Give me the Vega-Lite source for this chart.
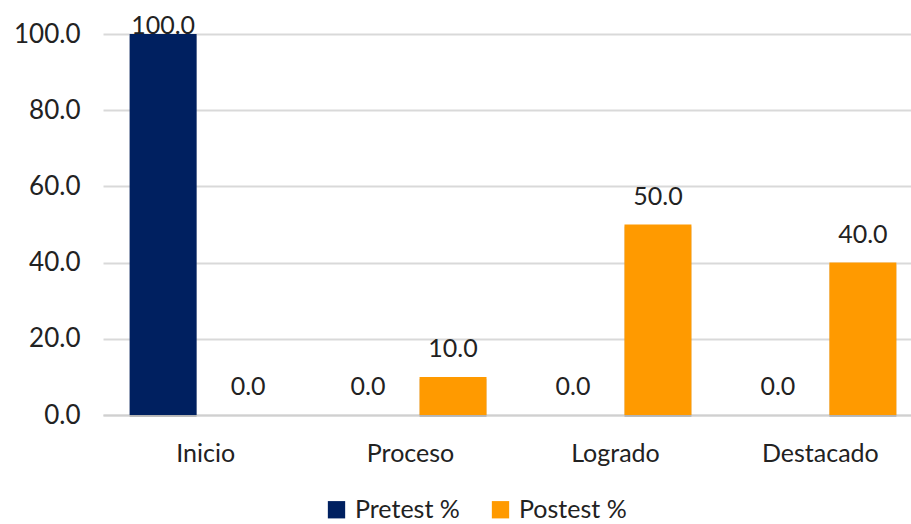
{
  "$schema": "https://vega.github.io/schema/vega-lite/v6.json",
  "width": 808,
  "height": 381,
  "autosize": {"type": "none"},
  "padding": {"left": 103, "top": 34, "right": 0, "bottom": 109},
  "background": "white",
  "config": {
    "font": "Lato",
    "view": {"stroke": null},
    "text": {"font": "Lato"}
  },
  "data": {
    "values": [
      {"nivel": "Inicio", "prueba": "Pretest %", "valor": 100.0},
      {"nivel": "Inicio", "prueba": "Postest %", "valor": 0.0},
      {"nivel": "Proceso", "prueba": "Pretest %", "valor": 0.0},
      {"nivel": "Proceso", "prueba": "Postest %", "valor": 10.0},
      {"nivel": "Logrado", "prueba": "Pretest %", "valor": 0.0},
      {"nivel": "Logrado", "prueba": "Postest %", "valor": 50.0},
      {"nivel": "Destacado", "prueba": "Pretest %", "valor": 0.0},
      {"nivel": "Destacado", "prueba": "Postest %", "valor": 40.0}
    ]
  },
  "encoding": {
    "x": {
      "field": "nivel",
      "type": "nominal",
      "sort": ["Inicio", "Proceso", "Logrado", "Destacado"],
      "scale": {"range": [0, 820], "paddingInner": 0.2585, "paddingOuter": 0.13},
      "axis": {
        "title": null,
        "labelAngle": 0,
        "labelFontSize": 25,
        "labelColor": "#222222",
        "labelPadding": 26,
        "ticks": false,
        "domainColor": "#d0d0d0",
        "domainWidth": 2
      }
    },
    "xOffset": {
      "field": "prueba",
      "type": "nominal",
      "sort": ["Pretest %", "Postest %"],
      "scale": {"paddingInner": 0.212, "paddingOuter": 0}
    },
    "y": {
      "field": "valor",
      "type": "quantitative",
      "scale": {"domain": [0, 100]},
      "axis": {
        "title": null,
        "values": [0, 20, 40, 60, 80, 100],
        "format": ".1f",
        "labelFontSize": 26,
        "labelColor": "#222222",
        "labelPadding": 23,
        "ticks": false,
        "domain": false,
        "gridColor": "#d9d9d9",
        "gridWidth": 2
      }
    }
  },
  "layer": [
    {
      "mark": {"type": "bar", "color": "#8a8a8a", "opacity": 0.4, "xOffset": 4, "yOffset": 2},
      "encoding": {}
    },
    {
      "mark": {"type": "bar"},
      "encoding": {
        "color": {
          "field": "prueba",
          "type": "nominal",
          "sort": ["Pretest %", "Postest %"],
          "scale": {"domain": ["Pretest %", "Postest %"], "range": ["#002060", "#FF9A00"]},
          "legend": {
            "title": null,
            "orient": "none",
            "direction": "horizontal",
            "legendX": 221,
            "legendY": 463,
            "symbolType": "square",
            "symbolSize": 300,
            "symbolStrokeWidth": 0,
            "labelFontSize": 25,
            "labelColor": "#222222",
            "columnPadding": 28,
            "labelOffset": 6
          }
        }
      }
    },
    {
      "transform": [{"filter": "datum.valor < 95"}],
      "mark": {"type": "text", "baseline": "bottom", "dy": -15, "fontSize": 25, "color": "#222222"},
      "encoding": {"text": {"field": "valor", "type": "quantitative", "format": ".1f"}}
    },
    {
      "transform": [{"filter": "datum.valor >= 95"}],
      "mark": {"type": "text", "baseline": "bottom", "dy": 5, "fontSize": 25, "color": "#222222"},
      "encoding": {"text": {"field": "valor", "type": "quantitative", "format": ".1f"}}
    }
  ]
}
